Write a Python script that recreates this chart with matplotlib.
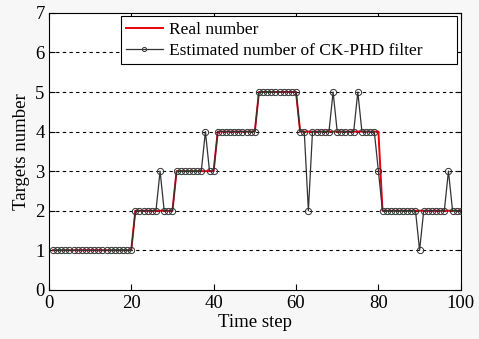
import numpy as np
import matplotlib
matplotlib.use("Agg")
import matplotlib.pyplot as plt

plt.rcParams['font.family'] = ['Liberation Serif', 'DejaVu Serif']

time_steps = list(range(1, 101))
real_number = [1]*20 + [2]*10 + [3]*10 + [4]*10 + [5]*10 + [4]*20 + [2]*20
estimated = (
    [1]*20 +
    [2]*6 + [3] + [2]*3 +
    [3]*7 + [4] + [3]*2 +
    [4]*10 +
    [5]*10 +
    [4]*2 + [2] + [4]*5 + [5] + [4]*5 + [5] + [4]*4 + [3] +
    [2]*9 + [1] + [2]*6 + [3] + [2]*3
)

fig = plt.figure(figsize=(4.79, 3.39), dpi=100)
fig.patch.set_facecolor('#f7f7f7')
ax = fig.add_axes([0.102, 0.145, 0.860, 0.817])
ax.set_facecolor('white')

for y in range(1, 7):
    ax.axhline(y, color='black', linestyle=(0, (3, 3)), linewidth=0.8, zorder=0)

ax.plot(time_steps, real_number, color='#e8000b', linewidth=1.4, label='Real number', zorder=2)
ax.plot(time_steps, estimated, color='#333333', linewidth=0.9, marker='o', markersize=4.5,
        markerfacecolor='none', markeredgecolor='#333333', markeredgewidth=0.7,
        label='Estimated number of CK-PHD filter', zorder=3)

ax.set_xlim(0, 100)
ax.set_ylim(0, 7)
ax.set_xticks([0, 20, 40, 60, 80, 100])
ax.set_yticks(range(0, 8))
ax.tick_params(direction='in', top=True, right=True, labelsize=13.5, length=4, width=0.8)
ax.tick_params(axis='x', pad=4)
ax.tick_params(axis='y', pad=3)
for s in ax.spines.values():
    s.set_linewidth(0.8)
ax.set_xlabel('Time step', fontsize=13.5, labelpad=1)
ax.set_ylabel('Targets number', fontsize=13.5, labelpad=4)

leg = ax.legend(loc='upper left', bbox_to_anchor=(0.175, 0.987, 0.815, 0.0), mode='expand',
                fontsize=12.5, frameon=True, fancybox=False, edgecolor='black', framealpha=1,
                borderpad=0.3, handlelength=2.1, labelspacing=0.27, handletextpad=0.35,
                borderaxespad=0.0)
leg.get_frame().set_linewidth(0.8)
leg.legend_handles[1].set_markersize(3)

fig.savefig('out.png', dpi=100, facecolor=fig.get_facecolor())
